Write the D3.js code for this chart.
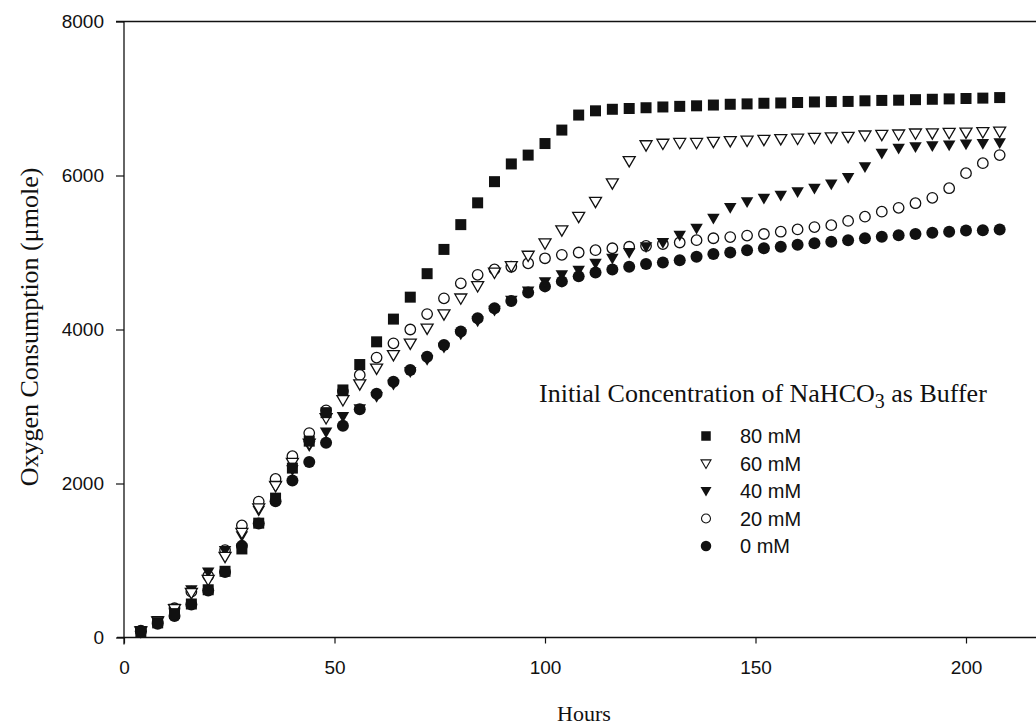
<!DOCTYPE html>
<html><head><meta charset="utf-8">
<script src="https://cdn.jsdelivr.net/npm/d3@7"></script>
<style>body{margin:0;background:#fff} svg{display:block}</style>
</head><body><svg id="c" width="1036" height="725"></svg>
<script>
const hours = [4,8,12,16,20,24,28,32,36,40,44,48,52,56,60,64,68,72,76,80,84,88,92,96,100,104,108,112,116,120,124,128,132,136,140,144,148,152,156,160,164,168,172,176,180,184,188,192,196,200,204,208];
const s80 = [70,190,310,435,620,860,1150,1485,1810,2200,2550,2920,3215,3545,3840,4135,4420,4725,5040,5362,5645,5920,6150,6265,6415,6590,6785,6840,6860,6870,6880,6890,6898,6905,6915,6925,6930,6938,6942,6948,6955,6960,6962,6970,6975,6978,6985,6990,6995,7000,7005,7012];
const s60 = [80,210,370,580,750,1050,1360,1680,1970,2270,2520,2850,3085,3290,3495,3670,3820,4015,4200,4405,4565,4740,4825,4960,5120,5290,5465,5660,5900,6190,6395,6415,6425,6425,6440,6450,6455,6465,6475,6480,6490,6498,6505,6522,6530,6535,6548,6550,6555,6560,6565,6572];
const s40 = [90,220,380,620,850,1130,1320,1650,1960,2180,2490,2670,2870,2970,3130,3290,3450,3610,3770,3940,4110,4250,4380,4500,4620,4710,4770,4860,4925,5000,5075,5130,5225,5315,5445,5585,5660,5705,5745,5790,5835,5890,5975,6115,6290,6355,6375,6385,6395,6410,6415,6425];
const s20 = [90,200,380,595,800,1135,1455,1765,2060,2355,2655,2950,3200,3410,3635,3820,4000,4200,4405,4600,4710,4780,4815,4860,4925,4970,5000,5030,5055,5075,5085,5110,5130,5160,5185,5200,5220,5240,5270,5300,5330,5355,5410,5465,5530,5580,5640,5710,5835,6030,6160,6265];
const s0 = [80,180,280,430,610,850,1190,1480,1770,2040,2280,2530,2750,2965,3165,3320,3475,3645,3800,3975,4145,4275,4370,4480,4560,4625,4690,4740,4780,4815,4850,4870,4900,4945,4980,5000,5030,5055,5075,5100,5120,5140,5160,5185,5205,5225,5240,5255,5270,5285,5290,5300];
const seriesNames = ["80 mM","60 mM","40 mM","20 mM","0 mM"];
const xTicks = [0,50,100,150,200];
const yTicks = [0,2000,4000,6000,8000];

const svg = d3.select("#c");
const x = d3.scaleLinear().domain([0,220]).range([124, 124 + 220*4.21]);
const y = d3.scaleLinear().domain([0,8000]).range([637.5, 21.5]);
const ink = "#111";

// shapes
const shapes = {
  square: s => `M${-s/2},${-s/2}h${s}v${s}h${-s}Z`,
  tri: s => `M${-s/2},${-s*0.36}L${s/2},${-s*0.36}L0,${s*0.5}Z`,
  circle: s => `M${-s/2},0a${s/2},${s/2} 0 1,0 ${s},0a${s/2},${s/2} 0 1,0 ${-s},0Z`
};
const styles = [
  {name: seriesNames[0], data: s80, shape: "square", size: 11, fill: ink, stroke: "none", lsize: 9.5},
  {name: seriesNames[1], data: s60, shape: "tri", size: 12, fill: "#fff", stroke: ink, lsize: 10},
  {name: seriesNames[2], data: s40, shape: "tri", size: 12.5, fill: ink, stroke: "none", lsize: 11},
  {name: seriesNames[3], data: s20, shape: "circle", size: 10.5, fill: "#fff", stroke: ink, lsize: 9},
  {name: seriesNames[4], data: s0, shape: "circle", size: 12, fill: ink, stroke: "none", lsize: 10.5}
];

// frame lines
svg.append("line").attr("x1", 116).attr("x2", 1036).attr("y1", y(8000)).attr("y2", y(8000))
  .attr("stroke", ink).attr("stroke-width", 1.3);
svg.append("line").attr("x1", x(0)).attr("x2", x(0)).attr("y1", y(8000)).attr("y2", y(0) + 7)
  .attr("stroke", ink).attr("stroke-width", 1.3);
svg.append("line").attr("x1", x(0) - 7).attr("x2", 1036).attr("y1", y(0)).attr("y2", y(0))
  .attr("stroke", ink).attr("stroke-width", 1.3);

// axes
const ya = svg.append("g").attr("transform", `translate(${x(0)},0)`)
  .call(d3.axisLeft(y).tickValues(yTicks).tickSize(8).tickPadding(12).tickFormat(d3.format("d")));
const xa = svg.append("g").attr("transform", `translate(0,${y(0)})`)
  .call(d3.axisBottom(x).tickValues(xTicks).tickSize(6).tickPadding(17).tickFormat(d3.format("d")));
[ya, xa].forEach(g => {
  g.select(".domain").remove();
  g.selectAll(".tick line").attr("stroke", ink).attr("stroke-width", 1.2);
  g.selectAll(".tick text").attr("fill", ink)
    .style("font-family", "'Liberation Sans', Arial, sans-serif").style("font-size", "19px");
});

// data (draw 0 mM first, 80 mM last)
styles.slice().reverse().forEach(st => {
  svg.append("g").selectAll("path").data(hours.map((h, i) => [h, st.data[i]])).join("path")
    .attr("transform", d => `translate(${x(d[0])},${y(d[1])})`)
    .attr("d", shapes[st.shape](st.size))
    .attr("fill", st.fill).attr("stroke", st.stroke).attr("stroke-width", 1.3);
});

// axis titles
const serif = "'Liberation Serif', 'Times New Roman', serif";
svg.append("text").attr("x", 584).attr("y", 721).attr("text-anchor", "middle")
  .style("font-family", serif).style("font-size", "22px").attr("fill", ink).text("Hours");
svg.append("text").attr("transform", "translate(38,327) rotate(-90)").attr("text-anchor", "middle")
  .style("font-family", serif).style("font-size", "26px").attr("fill", ink).text("Oxygen Consumption (μmole)");

// legend
const lt = svg.append("text").attr("x", 539).attr("y", 402)
  .style("font-family", serif).style("font-size", "26px").attr("fill", ink);
lt.append("tspan").text("Initial Concentration of NaHCO");
lt.append("tspan").attr("dy", 6).style("font-size", "20px").text("3");
lt.append("tspan").attr("dy", -6).text(" as Buffer");

const rowY = d3.scalePoint().domain(seriesNames).range([436, 546]);
const lg = svg.append("g");
styles.forEach(st => {
  lg.append("path").attr("transform", `translate(706,${rowY(st.name)})`)
    .attr("d", shapes[st.shape](st.lsize))
    .attr("fill", st.fill).attr("stroke", st.stroke).attr("stroke-width", 1.1);
  lg.append("text").attr("x", 740).attr("y", rowY(st.name)).attr("dy", "0.36em")
    .style("font-family", "'Liberation Sans', Arial, sans-serif").style("font-size", "20px")
    .attr("fill", ink).text(st.name);
});
</script></body></html>
